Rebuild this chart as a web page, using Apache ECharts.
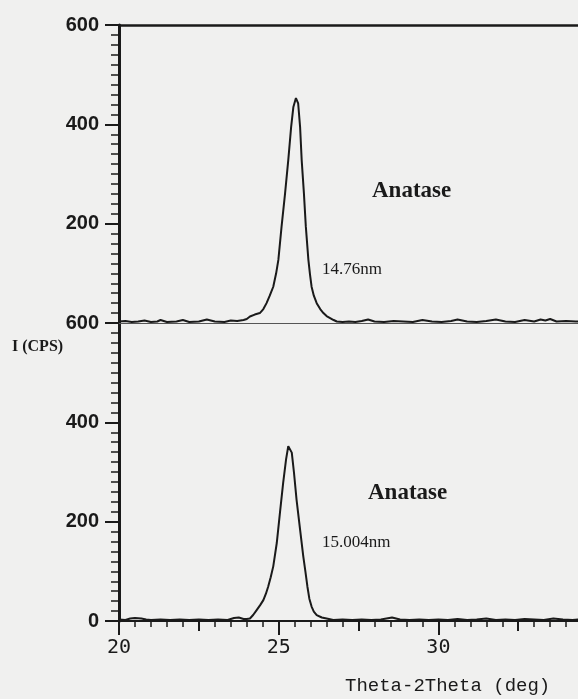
<!DOCTYPE html>
<html>
<head>
<meta charset="utf-8">
<title>XRD Anatase</title>
<script src="https://cdn.jsdelivr.net/npm/echarts@6/dist/echarts.min.js"></script>
<style>
  html, body { margin: 0; padding: 0; background: #f0f0ef; }
  #main { width: 578px; height: 699px; }
</style>
</head>
<body>
<div id="main"></div>
<script>
// upper pattern (14.76nm)
const upperTheta = [20.0, 20.2, 20.4, 20.6, 20.8, 21.0, 21.2, 21.3, 21.5, 21.8, 22.0, 22.2, 22.5, 22.75, 23.0, 23.3, 23.5, 23.7, 23.9, 24.0,
  24.1, 24.25, 24.41, 24.52, 24.62, 24.72, 24.83, 24.92, 24.99, 25.09, 25.2, 25.3, 25.39, 25.46, 25.54, 25.61, 25.67, 25.72, 25.79, 25.85,
  25.93, 25.98, 26.03, 26.1, 26.19, 26.3, 26.4, 26.5, 26.61, 26.72, 26.82, 27.0, 27.2, 27.4, 27.6, 27.8, 28.0, 28.3, 28.6, 28.9,
  29.2, 29.5, 29.8, 30.1, 30.4, 30.6, 30.9, 31.2, 31.5, 31.8, 32.1, 32.4, 32.7, 33.0, 33.2, 33.35, 33.5, 33.7, 34.0, 34.06,
  34.3, 34.6, 35.0, 35.5, 36.0];
const upperCps = [3, 4, 2, 3, 5, 2, 3, 6, 2, 3, 6, 2, 3, 7, 3, 2, 5, 4, 6, 8,
  13, 17, 20, 28, 40, 55, 73, 100, 127, 194, 261, 328, 395, 435, 453, 442, 395, 328, 261, 194,
  127, 98, 73, 55, 40, 28, 20, 14, 10, 6, 3, 2, 3, 2, 4, 7, 3, 2, 4, 3,
  2, 6, 3, 2, 4, 7, 3, 2, 4, 7, 3, 2, 6, 3, 7, 5, 8, 3, 4, 8,
  3, 4, 3, 4, 3];

// lower pattern (15.004nm)
const lowerTheta = [20.0, 20.2, 20.35, 20.5, 20.7, 20.85, 21.0, 21.3, 21.6, 21.9, 22.2, 22.5, 22.8, 23.1, 23.4, 23.6, 23.75, 23.9, 24.0, 24.1,
  24.2, 24.31, 24.42, 24.52, 24.6, 24.67, 24.75, 24.83, 24.94, 25.04, 25.14, 25.23, 25.3, 25.35, 25.41, 25.48, 25.56, 25.67, 25.77, 25.84,
  25.9, 25.96, 26.03, 26.1, 26.19, 26.35, 26.5, 26.71, 27.0, 27.3, 27.6, 27.9, 28.2, 28.55, 28.8, 29.1, 29.4, 29.7, 30.0, 30.3,
  30.6, 30.9, 31.2, 31.5, 31.8, 32.1, 32.4, 32.7, 33.0, 33.3, 33.6, 33.9, 34.2, 34.5, 34.8, 35.2, 35.6, 36.0];
const lowerCps = [3, 2, 5, 6, 5, 3, 2, 3, 2, 3, 2, 3, 2, 3, 2, 6, 7, 4, 4, 5,
  12, 22, 32, 42, 55, 69, 88, 110, 157, 218, 278, 325, 352, 356, 339, 298, 244, 184, 130, 98,
  69, 45, 29, 19, 12, 7, 5, 2, 3, 2, 3, 2, 3, 7, 3, 2, 3, 2, 3, 2,
  4, 2, 3, 5, 2, 3, 2, 4, 3, 2, 5, 3, 2, 4, 3, 2, 3, 2];

const thetaRange = [20, 36];
const cpsRange = [0, 600];

const ink = "#1a1a1a";

let myChart = echarts.init(document.getElementById("main"));

function yAxisFor(gridIndex, showMin) {
  return {
    type: "value",
    gridIndex: gridIndex,
    min: cpsRange[0],
    max: cpsRange[1],
    interval: 200,
    axisLine: { show: true, lineStyle: { color: ink, width: 3 } },
    axisTick: { show: true, length: 14, lineStyle: { color: ink, width: 2 } },
    minorTick: { show: true, splitNumber: 10, length: 8, lineStyle: { color: ink, width: 1.5 } },
    axisLabel: {
      showMinLabel: showMin,
      margin: 20,
      color: ink,
      fontFamily: "Liberation Sans",
      fontWeight: "bold",
      fontSize: 20
    },
    splitLine: { show: false },
    minorSplitLine: { show: false }
  };
}

// the plot runs past the right edge of the page (cropped scan)
let option = {
  backgroundColor: "#f0f0ef",
  animation: false,
  grid: [
    { left: 119, top: 25, width: 511, height: 298, outerBoundsMode: "none" },
    { left: 119, top: 323, width: 511, height: 298, outerBoundsMode: "none" }
  ],
  xAxis: [
    {
      type: "value", gridIndex: 0, min: thetaRange[0], max: thetaRange[1], position: "bottom",
      axisLine: { show: true, lineStyle: { color: "#555", width: 1 } },
      axisTick: { show: false }, axisLabel: { show: false }, splitLine: { show: false }
    },
    {
      type: "value", gridIndex: 0, min: thetaRange[0], max: thetaRange[1], position: "top",
      axisLine: { show: true, lineStyle: { color: ink, width: 2.5 } },
      axisTick: { show: false }, axisLabel: { show: false }, splitLine: { show: false }
    },
    {
      type: "value", gridIndex: 1, min: thetaRange[0], max: thetaRange[1], interval: 5, position: "bottom",
      axisLine: { show: true, lineStyle: { color: ink, width: 2 } },
      axisTick: { show: true, length: 14, lineStyle: { color: ink, width: 2 } },
      minorTick: { show: true, splitNumber: 10, length: 6, lineStyle: { color: ink, width: 1.5 } },
      axisLabel: {
        margin: 17,
        color: ink,
        fontFamily: "DejaVu Sans Mono",
        fontSize: 20,
        showMaxLabel: false
      },
      splitLine: { show: false },
      minorSplitLine: { show: false }
    },
    {
      // medium ticks at the half steps
      type: "value", gridIndex: 1, min: thetaRange[0], max: thetaRange[1], interval: 2.5, position: "bottom",
      axisLine: { show: false },
      axisTick: { show: true, length: 10, lineStyle: { color: ink, width: 2 } },
      axisLabel: { show: false }, splitLine: { show: false }
    }
  ],
  yAxis: [yAxisFor(0, false), yAxisFor(1, true)],
  series: [
    {
      name: "14.76nm",
      type: "line",
      xAxisIndex: 1,
      yAxisIndex: 0,
      symbol: "none",
      lineStyle: { color: ink, width: 2 },
      data: upperTheta.map((t, i) => [t, upperCps[i]])
    },
    {
      name: "15.004nm",
      type: "line",
      xAxisIndex: 2,
      yAxisIndex: 1,
      symbol: "none",
      lineStyle: { color: ink, width: 2 },
      data: lowerTheta.map((t, i) => [t, lowerCps[i]])
    }
  ],
  graphic: [
    { type: "text", x: 12, y: 347, style: { text: "I (CPS)", font: 'bold 16px "Liberation Serif"', fill: ink, verticalAlign: "middle" } },
    { type: "text", x: 372, y: 191, style: { text: "Anatase", font: 'bold 23px "Liberation Serif"', fill: ink, verticalAlign: "middle" } },
    { type: "text", x: 322, y: 270, style: { text: "14.76nm", font: '17px "Liberation Serif"', fill: ink, verticalAlign: "middle" } },
    { type: "text", x: 368, y: 493, style: { text: "Anatase", font: 'bold 23px "Liberation Serif"', fill: ink, verticalAlign: "middle" } },
    { type: "text", x: 322, y: 543, style: { text: "15.004nm", font: '17px "Liberation Serif"', fill: ink, verticalAlign: "middle" } },
    { type: "text", x: 345, y: 686, style: { text: "Theta-2Theta (deg)", font: '19px "Liberation Mono"', fill: ink, verticalAlign: "middle" } }
  ]
};

myChart.setOption(option);
</script>
</body>
</html>
